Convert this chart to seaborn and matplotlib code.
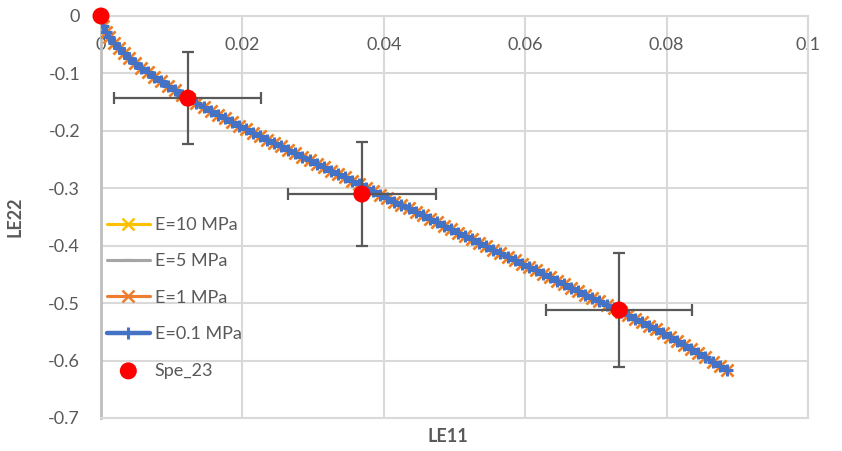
import numpy as np
import pandas as pd
import matplotlib
matplotlib.use("Agg")
import matplotlib.pyplot as plt
import seaborn as sns

# simulated curves (all four moduli give practically the same path)
le11_sim = [0.0, 0.0003, 0.0007, 0.0012, 0.0018, 0.0025, 0.0032, 0.0040, 0.0048,
            0.0057, 0.0066, 0.0075, 0.0085, 0.0095, 0.0105, 0.0115, 0.0125,
            0.0135, 0.0145, 0.0155, 0.0165, 0.0175, 0.0185, 0.0195, 0.0205,
            0.0215, 0.0225, 0.0235, 0.0245, 0.0255, 0.0265, 0.0275, 0.0285,
            0.0295, 0.0305, 0.0315, 0.0325, 0.0335, 0.0345, 0.0355, 0.0365,
            0.0375, 0.0385, 0.0395, 0.0405, 0.0415, 0.0425, 0.0435, 0.0445,
            0.0455, 0.0465, 0.0475, 0.0485, 0.0495, 0.0505, 0.0515, 0.0525,
            0.0535, 0.0545, 0.0555, 0.0565, 0.0575, 0.0585, 0.0595, 0.0605,
            0.0615, 0.0625, 0.0635, 0.0645, 0.0655, 0.0665, 0.0675, 0.0685,
            0.0695, 0.0705, 0.0715, 0.0725, 0.0735, 0.0745, 0.0755, 0.0765,
            0.0775, 0.0785, 0.0795, 0.0805, 0.0815, 0.0825, 0.0835, 0.0845,
            0.0855, 0.0865, 0.0875, 0.0885]
le22_sim = [0.0, -0.0177, -0.0277, -0.0371, -0.0464, -0.0558, -0.0641, -0.0729, -0.0811,
            -0.0897, -0.0978, -0.1056, -0.1139, -0.1219, -0.1296, -0.1371, -0.1444,
            -0.1515, -0.1584, -0.1651, -0.1717, -0.1782, -0.1846, -0.1909, -0.1971,
            -0.2031, -0.2091, -0.2151, -0.2211, -0.2271, -0.2331, -0.2391, -0.2451,
            -0.2511, -0.2571, -0.2631, -0.2691, -0.2751, -0.2811, -0.2871, -0.2931,
            -0.2991, -0.3051, -0.3111, -0.3171, -0.3231, -0.3291, -0.3351, -0.3411,
            -0.3471, -0.3531, -0.3591, -0.3651, -0.3711, -0.3771, -0.3831, -0.3891,
            -0.3951, -0.4011, -0.4071, -0.4131, -0.4191, -0.4251, -0.4311, -0.4371,
            -0.4431, -0.4491, -0.4551, -0.4611, -0.4671, -0.4731, -0.4791, -0.4851,
            -0.4911, -0.4971, -0.5031, -0.5091, -0.5151, -0.5211, -0.5271, -0.5331,
            -0.5391, -0.5453, -0.5517, -0.5583, -0.5651, -0.5721, -0.5793, -0.5867,
            -0.5942, -0.6018, -0.6094, -0.6171]

series_labels = ["E=10 MPa", "E=5 MPa", "E=1 MPa", "E=0.1 MPa"]
series_colors = ["#FFC000", "#A5A5A5", "#ED7D31", "#4472C4"]
series_markers = ["x", "_", "x", "+"]

# experiment Spe_23 with error bars
le11_exp = [0.0, 0.0123, 0.0369, 0.0733]
le22_exp = [0.0, -0.143, -0.310, -0.512]
le11_err = [0.0, 0.0104, 0.0105, 0.0103]
le22_err = [0.0, 0.080, 0.090, 0.099]

x_ticks = [0, 0.02, 0.04, 0.06, 0.08, 0.1]
x_ticklabels = ["0", "0.02", "0.04", "0.06", "0.08", "0.1"]
y_ticks = [0, -0.1, -0.2, -0.3, -0.4, -0.5, -0.6, -0.7]
y_ticklabels = ["0", "-0.1", "-0.2", "-0.3", "-0.4", "-0.5", "-0.6", "-0.7"]

sns.set_theme(style="white")
plt.rcParams['font.family'] = ['Lato', 'DejaVu Sans']
text_color = "#595959"
grid_color = "#D9D9D9"

fig = plt.figure(figsize=(8.42, 4.51), dpi=100)
ax = fig.add_axes([101 / 842, 1 - 418 / 451, 707 / 842, 402 / 451])

sim = pd.DataFrame({"LE11": le11_sim, "LE22": le22_sim})
style = {
    "E=10 MPa": dict(lw=2.25, ms=9, mew=1.8),
    "E=5 MPa": dict(lw=2.25, ms=6, mew=1.6),
    "E=1 MPa": dict(lw=2.25, ms=9, mew=1.8),
    "E=0.1 MPa": dict(lw=3.2, ms=8, mew=2.2),
}
for lab, col, mk in zip(series_labels, series_colors, series_markers):
    st = style[lab]
    sns.lineplot(data=sim, x="LE11", y="LE22", ax=ax, sort=False, estimator=None,
                 color=col, marker=mk, markersize=st["ms"], markeredgewidth=st["mew"],
                 markeredgecolor=col, linewidth=st["lw"], label=lab, zorder=3)

ax.errorbar(le11_exp, le22_exp, xerr=le11_err, yerr=le22_err, fmt="none",
            ecolor="#595959", elinewidth=1.6, capsize=4, capthick=1.6, zorder=4)
sns.scatterplot(x=le11_exp, y=le22_exp, ax=ax, color="#FF0000", s=150,
                edgecolor="none", label="Spe_23", zorder=5, clip_on=False)

ax.set_xlim(0, 0.1)
ax.set_ylim(-0.7, 0)
ax.set_xticks(x_ticks)
ax.set_xticklabels(x_ticklabels)
ax.set_yticks(y_ticks)
ax.set_yticklabels(y_ticklabels)
ax.grid(True, color=grid_color, linewidth=1.5)
ax.set_axisbelow(True)

ax.xaxis.tick_top()
ax.tick_params(axis="x", length=0, pad=-27, labelsize=13, labelcolor=text_color)
ax.tick_params(axis="y", length=0, pad=15, labelsize=13, labelcolor=text_color)

for side in ["top", "right", "bottom"]:
    ax.spines[side].set_color(grid_color)
    ax.spines[side].set_linewidth(1.5)
ax.spines["left"].set_color("#BFBFBF")
ax.spines["left"].set_linewidth(2)

ax.set_xlabel("LE11", fontsize=13, color=text_color, fontweight="bold")
ax.set_ylabel("LE22", fontsize=13, color=text_color, fontweight="bold")
ax.xaxis.set_label_position("bottom")
ax.xaxis.set_label_coords(0.49, -0.025)
ax.yaxis.set_label_coords(-0.11, 0.5)

leg = ax.legend(loc="upper left", bbox_to_anchor=(0.008, 0.5), frameon=False,
                fontsize=13, labelcolor=text_color, handlelength=2.4,
                handletextpad=0.25, labelspacing=1.13, borderpad=0,
                borderaxespad=0, numpoints=1)

plt.savefig("out.png", dpi=100)
plt.close()
